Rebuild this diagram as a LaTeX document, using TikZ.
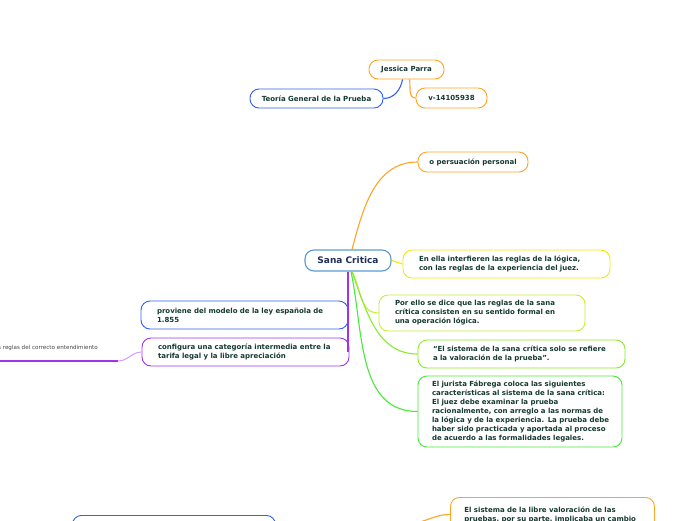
\documentclass[tikz,border=0pt]{standalone}
\usepackage{fontspec}
\setmainfont{DejaVu Sans}
\definecolor{cOr}{HTML}{FFA526}
\definecolor{cBl}{HTML}{2F62F0}
\definecolor{cSana}{HTML}{5B9BD5}
\definecolor{cSanaTxt}{HTML}{1F2D5C}
\definecolor{cYe}{HTML}{F2EA00}
\definecolor{cYg}{HTML}{C8F032}
\definecolor{cLg}{HTML}{8CEB2D}
\definecolor{cGr}{HTML}{4AE83A}
\definecolor{cPu}{HTML}{A033F0}
\definecolor{cPuL}{HTML}{D59BFF}
\definecolor{cTxt}{HTML}{153A30}
\definecolor{cGray}{HTML}{444444}
\tikzset{
  bx/.style={draw, rounded corners=9, fill=white, line width=0.9pt,
    font=\bfseries\fontsize{7}{9}\selectfont, text=cTxt, align=left, inner ysep=4},
  cn/.style={line width=1.1pt},
}
\begin{document}
\begin{tikzpicture}[x=1pt,y=-1pt]
\useasboundingbox[fill=white] (0,0) rectangle (696,520);
\clip (0,0) rectangle (696,520);
% top nodes
\node[bx, draw=cOr, minimum width=75, minimum height=19, align=center] (jessica) at (406.5,69.5) {Jessica Parra};
\node[bx, draw=cBl, minimum width=133, minimum height=19, align=center] (teoria) at (316.5,98.5) {Teoría General de la Prueba};
\node[bx, draw=cOr, minimum width=71, minimum height=20, align=center] (vnum) at (451.5,98) {v-14105938};
\draw[cn, cBl] ([xshift=-4]jessica.south) to[out=-100,in=0] (teoria.east);
\draw[cn, cOr] ([xshift=3]jessica.south) to[out=-80,in=180] (vnum.west);
% center
\node[bx, draw=cSana, minimum width=86, minimum height=21, align=center, text=cSanaTxt,
  font=\bfseries\fontsize{9}{11}\selectfont, line width=1.1pt] (sana) at (348,260.5) {Sana Critica};
% right branches
\node[bx, draw=cOr, minimum width=110, minimum height=20, align=center] (persu) at (473,162) {o persuación personal};
\node[bx, draw=cYe, text width=175, inner xsep=16, minimum height=28] (enella) at (506.5,264)
  {En ella interfieren las reglas de la lógica,\\con las reglas de la experiencia del juez.};
\node[bx, draw=cYg, text width=174, inner xsep=16, minimum height=36] (porello) at (482,313)
  {Por ello se dice que las reglas de la sana\\crítica consisten en su sentido formal en\\una operación lógica.};
\node[bx, draw=cLg, text width=177, inner xsep=15, minimum height=28] (sistema) at (521.5,354)
  {“El sistema de la sana crítica solo se refiere\\a la valoración de la prueba”.};
\node[bx, draw=cGr, text width=176, inner xsep=14, minimum height=71] (fabrega) at (520,411.5)
  {El jurista Fábrega coloca las siguientes\\características al sistema de la sana crítica:\\El juez debe examinar la prueba\\racionalmente, con arreglo a las normas de\\\mbox{la lógica y de la experiencia. La prueba debe}\\haber sido practicada y aportada al proceso\\de acuerdo a las formalidades legales.};
% left branches
\node[bx, draw=cBl, text width=175, inner xsep=16, minimum height=28] (proviene) at (244.5,315)
  {proviene del modelo de la ley española de\\1.855};
\node[bx, draw=cPu, text width=175, inner xsep=16, minimum height=28] (configura) at (245.5,352)
  {configura una categoría intermedia entre la\\tarifa legal y la libre apreciación};
% connectors from center
\draw[cn, cOr] ([xshift=4]sana.north) to[out=75,in=180] (persu.west);
\draw[cn, cYe] (sana.east) -- (enella.west);
\draw[cn, cYg] ([xshift=4]sana.south) to[out=-62,in=180] (porello.west);
\draw[cn, cLg] ([xshift=4]sana.south) to[out=-70,in=180] (sistema.west);
\draw[cn, cGr] ([xshift=3]sana.south) to[out=-78,in=180] (fabrega.west);
\draw[cn, cBl] (sana.south) -- (sana.south |- proviene.east);
\draw[cn, cPu, line width=1.4pt] (sana.south) -- (sana.south |- configura.east);
% far left text
\node[anchor=east, font=\fontsize{5.6}{6.5}\selectfont, text=cGray, inner sep=0] (lefttxt) at (98,348) {las reglas del correcto entendimiento};
\coordinate (lu1) at (0,361);
\coordinate (lu2) at (118,361);
\draw[cPu, line width=1.5pt] (lu1) -- (lu2);
\draw[cPuL, line width=1pt] (lu2) to[out=0,in=180] (configura.west);
% bottom
\node[bx, draw=cBl, minimum width=203, minimum height=40, anchor=north west] (bluebox) at (72,515) {};
\node[bx, draw=cOr, text width=176, inner xsep=14, minimum height=34, anchor=north west, inner ysep=3] (libre) at (450,497)
  {El sistema de la libre valoración de las\\pruebas, por su parte, implicaba un cambio};
\coordinate (ob) at (415,523);
\draw[cn, cOr] (ob) to[out=10,in=180] (libre.west);
\end{tikzpicture}
\end{document}
